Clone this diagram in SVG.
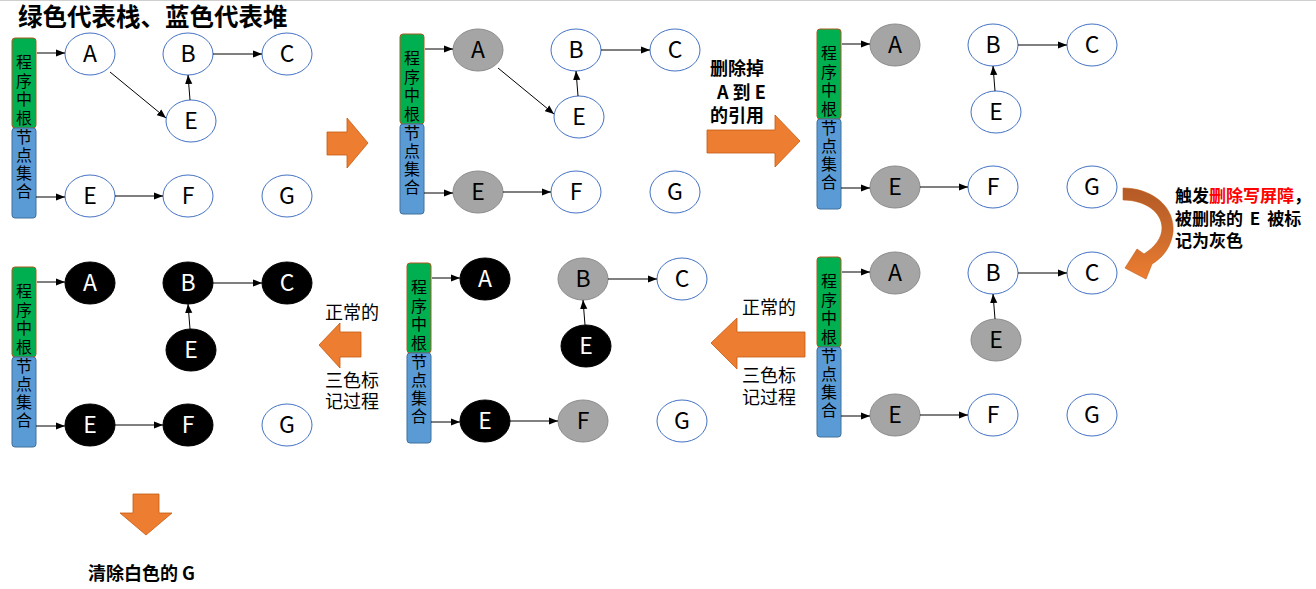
<svg xmlns="http://www.w3.org/2000/svg" width="1316" height="589" viewBox="0 0 1316 589">
<style>
.w{fill:#fff;stroke:#4472c4;stroke-width:1}
.g{fill:#a5a5a5;stroke:#8c8c8c;stroke-width:1}
.k{fill:#000;stroke:#000;stroke-width:1}
.nl{font-family:"Noto Sans CJK SC","Noto Sans",sans-serif;font-size:23px;text-anchor:middle;fill:#000}
.nd{font-family:"Noto Sans CJK SC","Noto Sans",sans-serif;font-size:23px;text-anchor:middle;fill:#fff}
.root{fill:#00b050;stroke:#ae5a21;stroke-width:1}
.heap{fill:#5b9bd5;stroke:#41719c;stroke-width:1}
.bt{font-family:"Noto Sans CJK SC",sans-serif;font-size:16px;text-anchor:middle;fill:#000}
.cn{stroke:#000;stroke-width:1;fill:none;marker-end:url(#ah)}
.oa{fill:#ed7d31;stroke:#c55a11;stroke-width:0.8}
.cap{font-family:"Noto Sans CJK SC",sans-serif;font-size:18px;fill:#000}
.capb{font-family:"Noto Sans CJK SC",sans-serif;font-size:17px;font-weight:bold;fill:#000}
</style>
<defs>
<marker id="ah" markerUnits="userSpaceOnUse" viewBox="0 0 10 8" markerWidth="9" markerHeight="8" refX="10" refY="4" orient="auto">
<path d="M0,0 L10,4 L0,8 z" fill="#000"/>
</marker>
<linearGradient id="cg" x1="0" y1="0" x2="0" y2="1">
<stop offset="0" stop-color="#b45a26"/>
<stop offset="0.45" stop-color="#c8692c"/>
<stop offset="1" stop-color="#ed7d31"/>
</linearGradient>
<g id="bars">
<rect class="root" x="12" y="38" width="24" height="90" rx="3"/>
<rect class="heap" x="12" y="128" width="24" height="90" rx="3"/>
<text class="bt"><tspan x="24" y="68">程</tspan><tspan x="24" y="86.5">序</tspan><tspan x="24" y="105">中</tspan><tspan x="24" y="123.5">根</tspan><tspan x="24" y="143">节</tspan><tspan x="24" y="161">点</tspan><tspan x="24" y="179">集</tspan><tspan x="24" y="197">合</tspan></text>
</g>
</defs>
<line x1="0" y1="0.5" x2="1316" y2="0.5" stroke="#cfcfcf" stroke-width="1"/>
<text x="18" y="26" font-family="Noto Sans CJK SC,sans-serif" font-size="24.5" font-weight="bold" fill="#000">绿色代表栈、蓝色代表堆</text>

<!-- Panel 1 -->
<g id="panel1" transform="translate(0,0)">
<use href="#bars"/>
<g id="p1-A"><ellipse class="w" cx="90" cy="54" rx="25" ry="21"/><text class="nl" x="90" y="62">A</text></g>
<g id="p1-B"><ellipse class="w" cx="188" cy="54" rx="25" ry="21"/><text class="nl" x="188" y="62">B</text></g>
<g id="p1-C"><ellipse class="w" cx="287" cy="54" rx="25" ry="21"/><text class="nl" x="287" y="62">C</text></g>
<g id="p1-E1"><ellipse class="w" cx="191" cy="121" rx="25" ry="21"/><text class="nl" x="191" y="129">E</text></g>
<g id="p1-E2"><ellipse class="w" cx="90" cy="196" rx="25" ry="21"/><text class="nl" x="90" y="204">E</text></g>
<g id="p1-F"><ellipse class="w" cx="188" cy="196" rx="25" ry="21"/><text class="nl" x="188" y="204">F</text></g>
<g id="p1-G"><ellipse class="w" cx="287" cy="196" rx="25" ry="21"/><text class="nl" x="287" y="204">G</text></g>
</g>

<!-- Panel 2 -->
<g id="panel2" transform="translate(388,-4)">
<use href="#bars"/>
<g id="p2-A"><ellipse class="g" cx="90" cy="54" rx="25" ry="21"/><text class="nl" x="90" y="62">A</text></g>
<g id="p2-B"><ellipse class="w" cx="188" cy="54" rx="25" ry="21"/><text class="nl" x="188" y="62">B</text></g>
<g id="p2-C"><ellipse class="w" cx="287" cy="54" rx="25" ry="21"/><text class="nl" x="287" y="62">C</text></g>
<g id="p2-E1"><ellipse class="w" cx="191" cy="121" rx="25" ry="21"/><text class="nl" x="191" y="129">E</text></g>
<g id="p2-E2"><ellipse class="g" cx="90" cy="196" rx="25" ry="21"/><text class="nl" x="90" y="204">E</text></g>
<g id="p2-F"><ellipse class="w" cx="188" cy="196" rx="25" ry="21"/><text class="nl" x="188" y="204">F</text></g>
<g id="p2-G"><ellipse class="w" cx="287" cy="196" rx="25" ry="21"/><text class="nl" x="287" y="204">G</text></g>
</g>

<!-- Panel 3 -->
<g id="panel3" transform="translate(805,-9)">
<use href="#bars"/>
<g id="p3-A"><ellipse class="g" cx="90" cy="54" rx="25" ry="21"/><text class="nl" x="90" y="62">A</text></g>
<g id="p3-B"><ellipse class="w" cx="188" cy="54" rx="25" ry="21"/><text class="nl" x="188" y="62">B</text></g>
<g id="p3-C"><ellipse class="w" cx="287" cy="54" rx="25" ry="21"/><text class="nl" x="287" y="62">C</text></g>
<g id="p3-E1"><ellipse class="w" cx="191" cy="121" rx="25" ry="21"/><text class="nl" x="191" y="129">E</text></g>
<g id="p3-E2"><ellipse class="g" cx="90" cy="196" rx="25" ry="21"/><text class="nl" x="90" y="204">E</text></g>
<g id="p3-F"><ellipse class="w" cx="188" cy="196" rx="25" ry="21"/><text class="nl" x="188" y="204">F</text></g>
<g id="p3-G"><ellipse class="w" cx="287" cy="196" rx="25" ry="21"/><text class="nl" x="287" y="204">G</text></g>
</g>

<!-- Panel 4 -->
<g id="panel4" transform="translate(805,219)">
<use href="#bars"/>
<g id="p4-A"><ellipse class="g" cx="90" cy="54" rx="25" ry="21"/><text class="nl" x="90" y="62">A</text></g>
<g id="p4-B"><ellipse class="w" cx="188" cy="54" rx="25" ry="21"/><text class="nl" x="188" y="62">B</text></g>
<g id="p4-C"><ellipse class="w" cx="287" cy="54" rx="25" ry="21"/><text class="nl" x="287" y="62">C</text></g>
<g id="p4-E1"><ellipse class="g" cx="191" cy="121" rx="25" ry="21"/><text class="nl" x="191" y="129">E</text></g>
<g id="p4-E2"><ellipse class="g" cx="90" cy="196" rx="25" ry="21"/><text class="nl" x="90" y="204">E</text></g>
<g id="p4-F"><ellipse class="w" cx="188" cy="196" rx="25" ry="21"/><text class="nl" x="188" y="204">F</text></g>
<g id="p4-G"><ellipse class="w" cx="287" cy="196" rx="25" ry="21"/><text class="nl" x="287" y="204">G</text></g>
</g>

<!-- Panel 5 -->
<g id="panel5" transform="translate(395,225)">
<use href="#bars"/>
<g id="p5-A"><ellipse class="k" cx="90" cy="54" rx="25" ry="21"/><text class="nd" x="90" y="62">A</text></g>
<g id="p5-B"><ellipse class="g" cx="188" cy="54" rx="25" ry="21"/><text class="nl" x="188" y="62">B</text></g>
<g id="p5-C"><ellipse class="w" cx="287" cy="54" rx="25" ry="21"/><text class="nl" x="287" y="62">C</text></g>
<g id="p5-E1"><ellipse class="k" cx="191" cy="121" rx="25" ry="21"/><text class="nd" x="191" y="129">E</text></g>
<g id="p5-E2"><ellipse class="k" cx="90" cy="196" rx="25" ry="21"/><text class="nd" x="90" y="204">E</text></g>
<g id="p5-F"><ellipse class="g" cx="188" cy="196" rx="25" ry="21"/><text class="nl" x="188" y="204">F</text></g>
<g id="p5-G"><ellipse class="w" cx="287" cy="196" rx="25" ry="21"/><text class="nl" x="287" y="204">G</text></g>
</g>

<!-- Panel 6 -->
<g id="panel6" transform="translate(0,229)">
<use href="#bars"/>
<g id="p6-A"><ellipse class="k" cx="90" cy="54" rx="25" ry="21"/><text class="nd" x="90" y="62">A</text></g>
<g id="p6-B"><ellipse class="k" cx="188" cy="54" rx="25" ry="21"/><text class="nd" x="188" y="62">B</text></g>
<g id="p6-C"><ellipse class="k" cx="287" cy="54" rx="25" ry="21"/><text class="nd" x="287" y="62">C</text></g>
<g id="p6-E1"><ellipse class="k" cx="191" cy="121" rx="25" ry="21"/><text class="nd" x="191" y="129">E</text></g>
<g id="p6-E2"><ellipse class="k" cx="90" cy="196" rx="25" ry="21"/><text class="nd" x="90" y="204">E</text></g>
<g id="p6-F"><ellipse class="k" cx="188" cy="196" rx="25" ry="21"/><text class="nd" x="188" y="204">F</text></g>
<g id="p6-G"><ellipse class="w" cx="287" cy="196" rx="25" ry="21"/><text class="nl" x="287" y="204">G</text></g>
</g>

<!-- Connectors -->
<g id="connectors">
<g transform="translate(0,0)">
<path class="cn" d="M37,53 L65,53"/><path class="cn" d="M110,72 L166,118"/><path class="cn" d="M190,100 L188,75"/><path class="cn" d="M213,54 L262,54"/><path class="cn" d="M36,197 L65,197"/><path class="cn" d="M115,196 L163,196"/>
</g>
<g transform="translate(388,-4)">
<path class="cn" d="M37,53 L65,53"/><path class="cn" d="M110,72 L166,118"/><path class="cn" d="M190,100 L188,75"/><path class="cn" d="M213,54 L262,54"/><path class="cn" d="M36,197 L65,197"/><path class="cn" d="M115,196 L163,196"/>
</g>
<g transform="translate(805,-9)">
<path class="cn" d="M37,53 L65,53"/><path class="cn" d="M190,100 L188,75"/><path class="cn" d="M213,54 L262,54"/><path class="cn" d="M36,197 L65,197"/><path class="cn" d="M115,196 L163,196"/>
</g>
<g transform="translate(805,219)">
<path class="cn" d="M37,53 L65,53"/><path class="cn" d="M190,100 L188,75"/><path class="cn" d="M213,54 L262,54"/><path class="cn" d="M36,197 L65,197"/><path class="cn" d="M115,196 L163,196"/>
</g>
<g transform="translate(395,225)">
<path class="cn" d="M37,53 L65,53"/><path class="cn" d="M190,100 L188,75"/><path class="cn" d="M213,54 L262,54"/><path class="cn" d="M36,197 L65,197"/><path class="cn" d="M115,196 L163,196"/>
</g>
<g transform="translate(0,229)">
<path class="cn" d="M37,53 L65,53"/><path class="cn" d="M190,100 L188,75"/><path class="cn" d="M213,54 L262,54"/><path class="cn" d="M36,197 L65,197"/><path class="cn" d="M115,196 L163,196"/>
</g>
</g>

<!-- Orange block arrows -->
<path class="oa" d="M327,132 L347,132 L347,118 L368,143 L347,168 L347,155 L327,155 Z"/>
<path class="oa" d="M707,130 L775,130 L775,115 L800,141 L775,167 L775,153 L707,153 Z"/>
<path class="oa" d="M805,332 L737,332 L737,318 L711,343 L737,369 L737,357 L805,357 Z"/>
<path class="oa" d="M361,332 L340,332 L340,323 L319,345 L340,368 L340,357 L361,357 Z"/>
<path class="oa" d="M133,494 L159,494 L159,513 L172,513 L146,535 L120,513 L133,513 Z"/>
<path d="M1123,188 C1150,188 1175,205 1173,232 C1171,248 1162,258 1152,264 L1146,279 L1125,268 L1137,249 L1144,254 C1155,247 1162,238 1162,228 C1162,212 1145,200 1123,200 Z" fill="url(#cg)" stroke="#c55a11" stroke-width="0.6"/>

<!-- Captions -->
<text class="capb" style="font-size:18px"><tspan x="710" y="75">删除掉</tspan><tspan x="717" y="99">A 到 E</tspan><tspan x="710" y="122">的引用</tspan></text>
<text class="capb"><tspan x="1175" y="201.5">触发<tspan fill="#ff0000">删除写屏障</tspan>，</tspan><tspan x="1175" y="224.5" word-spacing="3">被删除的 E 被标</tspan><tspan x="1175" y="246.5">记为灰色</tspan></text>
<text class="cap"><tspan x="742" y="313.5">正常的</tspan><tspan x="742" y="381.5">三色标</tspan><tspan x="742" y="403.5">记过程</tspan></text>
<text class="cap"><tspan x="325" y="318.5">正常的</tspan><tspan x="325" y="386.5">三色标</tspan><tspan x="325" y="408">记过程</tspan></text>
<text class="capb" style="font-size:18px" x="88" y="579.5">清除白色的 G</text>
</svg>
